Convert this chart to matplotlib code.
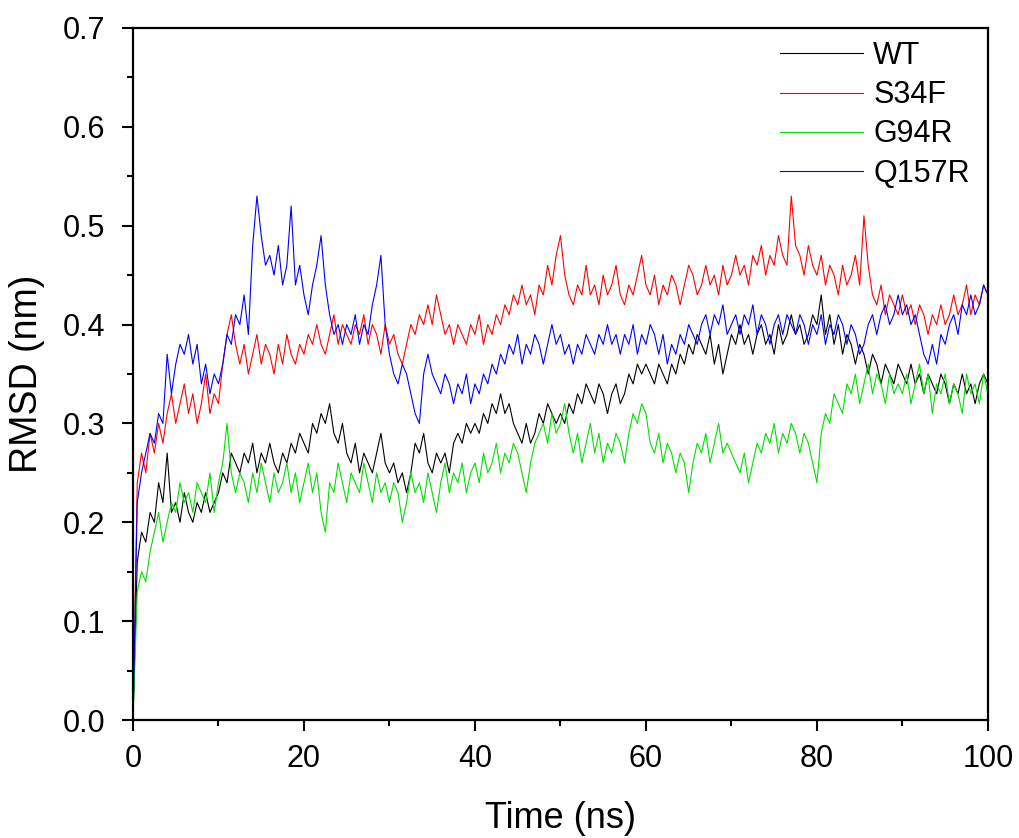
import numpy as np
import matplotlib
matplotlib.use("Agg")
import matplotlib.pyplot as plt
from matplotlib.ticker import MultipleLocator

plt.rcParams['font.family'] = ['Liberation Sans', 'DejaVu Sans']

# RMSD traces, one value every 0.5 ns (0 .. 100 ns)
time_step = 0.5

wt = [0.00, 0.16, 0.19, 0.18, 0.21, 0.20, 0.24, 0.22, 0.27, 0.21, 0.22, 0.20, 0.23, 0.21, 0.20, 0.22, 0.21, 0.23, 0.21, 0.22,
      0.23, 0.25, 0.24, 0.27, 0.26, 0.25, 0.27, 0.26, 0.28, 0.25, 0.27, 0.26, 0.28, 0.26, 0.25, 0.27, 0.26, 0.28, 0.27, 0.29,
      0.28, 0.27, 0.30, 0.29, 0.31, 0.30, 0.32, 0.29, 0.28, 0.30, 0.27, 0.26, 0.28, 0.25, 0.27, 0.26, 0.25, 0.27, 0.29, 0.26,
      0.25, 0.26, 0.24, 0.25, 0.23, 0.25, 0.28, 0.27, 0.29, 0.26, 0.25, 0.27, 0.26, 0.27, 0.25, 0.28, 0.29, 0.28, 0.30, 0.29,
      0.30, 0.29, 0.31, 0.30, 0.32, 0.31, 0.33, 0.31, 0.32, 0.30, 0.29, 0.28, 0.30, 0.28, 0.29, 0.31, 0.30, 0.32, 0.31, 0.30,
      0.31, 0.30, 0.32, 0.31, 0.33, 0.32, 0.34, 0.33, 0.32, 0.34, 0.33, 0.31, 0.33, 0.34, 0.32, 0.33, 0.35, 0.34, 0.36, 0.35,
      0.36, 0.35, 0.34, 0.36, 0.35, 0.34, 0.36, 0.35, 0.37, 0.36, 0.38, 0.37, 0.39, 0.38, 0.37, 0.39, 0.36, 0.38, 0.35, 0.37,
      0.39, 0.38, 0.40, 0.38, 0.39, 0.37, 0.39, 0.40, 0.38, 0.39, 0.37, 0.40, 0.38, 0.39, 0.41, 0.39, 0.40, 0.38, 0.39, 0.41,
      0.40, 0.43, 0.39, 0.41, 0.38, 0.40, 0.37, 0.39, 0.38, 0.36, 0.38, 0.37, 0.35, 0.37, 0.36, 0.34, 0.36, 0.35, 0.34, 0.36,
      0.35, 0.34, 0.36, 0.34, 0.35, 0.33, 0.35, 0.34, 0.33, 0.35, 0.34, 0.32, 0.34, 0.33, 0.35, 0.33, 0.34, 0.32, 0.34, 0.35, 0.34]

s34f = [0.00, 0.24, 0.27, 0.25, 0.29, 0.27, 0.30, 0.28, 0.31, 0.33, 0.30, 0.32, 0.34, 0.31, 0.33, 0.30, 0.32, 0.35, 0.31, 0.33,
        0.32, 0.36, 0.39, 0.41, 0.38, 0.36, 0.38, 0.35, 0.37, 0.39, 0.36, 0.38, 0.37, 0.35, 0.38, 0.36, 0.39, 0.37, 0.36, 0.38,
        0.37, 0.39, 0.38, 0.40, 0.38, 0.37, 0.39, 0.41, 0.38, 0.40, 0.39, 0.38, 0.40, 0.39, 0.41, 0.38, 0.40, 0.39, 0.37, 0.40,
        0.38, 0.39, 0.37, 0.36, 0.38, 0.40, 0.39, 0.41, 0.40, 0.42, 0.40, 0.43, 0.41, 0.39, 0.40, 0.38, 0.40, 0.39, 0.38, 0.40,
        0.39, 0.41, 0.38, 0.40, 0.39, 0.41, 0.40, 0.42, 0.41, 0.43, 0.42, 0.44, 0.42, 0.43, 0.41, 0.44, 0.43, 0.46, 0.44, 0.47,
        0.49, 0.45, 0.43, 0.42, 0.44, 0.43, 0.46, 0.43, 0.44, 0.42, 0.45, 0.43, 0.44, 0.46, 0.43, 0.42, 0.44, 0.43, 0.45, 0.47,
        0.44, 0.43, 0.45, 0.42, 0.44, 0.43, 0.45, 0.44, 0.42, 0.44, 0.46, 0.45, 0.43, 0.44, 0.46, 0.44, 0.45, 0.43, 0.46, 0.44,
        0.45, 0.47, 0.45, 0.46, 0.44, 0.47, 0.46, 0.48, 0.45, 0.47, 0.46, 0.49, 0.47, 0.46, 0.53, 0.48, 0.47, 0.45, 0.48, 0.46,
        0.45, 0.47, 0.44, 0.46, 0.45, 0.43, 0.46, 0.44, 0.45, 0.47, 0.44, 0.51, 0.46, 0.43, 0.42, 0.44, 0.41, 0.43, 0.42, 0.41,
        0.43, 0.41, 0.42, 0.40, 0.42, 0.41, 0.39, 0.41, 0.40, 0.42, 0.40, 0.41, 0.43, 0.41, 0.42, 0.44, 0.41, 0.43, 0.42, 0.44, 0.43]

g94r = [0.00, 0.13, 0.15, 0.14, 0.17, 0.19, 0.21, 0.18, 0.20, 0.22, 0.21, 0.24, 0.22, 0.23, 0.21, 0.24, 0.23, 0.22, 0.25, 0.21,
        0.24, 0.26, 0.30, 0.25, 0.23, 0.25, 0.24, 0.22, 0.25, 0.23, 0.26, 0.24, 0.22, 0.25, 0.23, 0.24, 0.26, 0.23, 0.25, 0.22,
        0.24, 0.26, 0.23, 0.25, 0.21, 0.19, 0.24, 0.23, 0.26, 0.24, 0.22, 0.25, 0.24, 0.23, 0.26, 0.24, 0.22, 0.25, 0.23, 0.24,
        0.22, 0.24, 0.23, 0.20, 0.22, 0.25, 0.23, 0.24, 0.22, 0.25, 0.23, 0.21, 0.24, 0.26, 0.23, 0.25, 0.24, 0.26, 0.23, 0.25,
        0.26, 0.24, 0.27, 0.25, 0.26, 0.28, 0.25, 0.27, 0.26, 0.28, 0.27, 0.25, 0.23, 0.26, 0.28, 0.29, 0.30, 0.28, 0.31, 0.29,
        0.30, 0.32, 0.29, 0.27, 0.29, 0.26, 0.28, 0.30, 0.27, 0.29, 0.26, 0.28, 0.27, 0.29, 0.28, 0.26, 0.29, 0.31, 0.30, 0.32,
        0.31, 0.28, 0.27, 0.29, 0.26, 0.28, 0.27, 0.25, 0.27, 0.26, 0.23, 0.26, 0.28, 0.27, 0.29, 0.26, 0.28, 0.30, 0.27, 0.28,
        0.27, 0.26, 0.25, 0.27, 0.24, 0.26, 0.28, 0.27, 0.29, 0.28, 0.30, 0.27, 0.29, 0.28, 0.30, 0.29, 0.27, 0.29, 0.28, 0.26,
        0.24, 0.29, 0.31, 0.30, 0.33, 0.32, 0.31, 0.34, 0.33, 0.35, 0.32, 0.34, 0.36, 0.33, 0.35, 0.34, 0.32, 0.35, 0.33, 0.34,
        0.33, 0.35, 0.32, 0.34, 0.36, 0.33, 0.35, 0.31, 0.34, 0.33, 0.35, 0.32, 0.34, 0.33, 0.31, 0.35, 0.33, 0.34, 0.32, 0.35, 0.33]

q157r = [0.00, 0.22, 0.25, 0.27, 0.29, 0.28, 0.31, 0.30, 0.37, 0.33, 0.36, 0.38, 0.37, 0.39, 0.36, 0.38, 0.34, 0.36, 0.33, 0.35,
         0.34, 0.36, 0.39, 0.38, 0.41, 0.40, 0.43, 0.39, 0.48, 0.53, 0.49, 0.46, 0.47, 0.45, 0.48, 0.44, 0.46, 0.52, 0.44, 0.46,
         0.43, 0.41, 0.44, 0.46, 0.49, 0.44, 0.41, 0.39, 0.40, 0.38, 0.40, 0.39, 0.41, 0.38, 0.40, 0.39, 0.42, 0.44, 0.47, 0.40,
         0.37, 0.35, 0.34, 0.36, 0.35, 0.33, 0.31, 0.30, 0.35, 0.37, 0.35, 0.34, 0.33, 0.35, 0.34, 0.32, 0.34, 0.33, 0.35, 0.32,
         0.34, 0.33, 0.35, 0.34, 0.36, 0.35, 0.37, 0.36, 0.38, 0.37, 0.39, 0.36, 0.38, 0.37, 0.39, 0.38, 0.36, 0.38, 0.40, 0.38,
         0.39, 0.37, 0.38, 0.36, 0.38, 0.37, 0.39, 0.38, 0.37, 0.39, 0.38, 0.40, 0.38, 0.39, 0.37, 0.39, 0.38, 0.40, 0.37, 0.39,
         0.38, 0.40, 0.39, 0.37, 0.39, 0.36, 0.38, 0.37, 0.39, 0.38, 0.40, 0.39, 0.38, 0.40, 0.41, 0.39, 0.41, 0.40, 0.42, 0.39,
         0.40, 0.41, 0.39, 0.41, 0.40, 0.42, 0.39, 0.41, 0.40, 0.38, 0.40, 0.41, 0.39, 0.41, 0.40, 0.39, 0.41, 0.40, 0.38, 0.40,
         0.39, 0.41, 0.38, 0.40, 0.39, 0.41, 0.40, 0.38, 0.40, 0.39, 0.37, 0.38, 0.40, 0.41, 0.39, 0.41, 0.42, 0.40, 0.41, 0.43,
         0.41, 0.42, 0.40, 0.41, 0.39, 0.37, 0.36, 0.38, 0.36, 0.39, 0.38, 0.40, 0.41, 0.39, 0.42, 0.41, 0.43, 0.41, 0.42, 0.44, 0.43]

labels = ["WT", "S34F", "G94R", "Q157R"]
colors = ["black", "red", "#00e000", "blue"]
series = [wt, s34f, g94r, q157r]

fig = plt.figure(figsize=(10.19, 8.38), dpi=100)
ax = fig.add_axes([0.1305, 0.1408, 0.839, 0.8258])

for vals, lab, col in zip(series, labels, colors):
    t = np.arange(len(vals)) * time_step
    ax.plot(t, vals, color=col, lw=0.8, label=lab)

ax.set_xlim(0, 100)
ax.set_ylim(0, 0.7)
ax.xaxis.set_major_locator(MultipleLocator(20))
ax.xaxis.set_minor_locator(MultipleLocator(10))
ax.yaxis.set_major_locator(MultipleLocator(0.1))
ax.yaxis.set_minor_locator(MultipleLocator(0.05))
ax.yaxis.set_major_formatter(plt.FormatStrFormatter('%.1f'))
ax.tick_params(which='both', direction='out', top=False, right=False, width=1.5, labelsize=22)
ax.tick_params(which='major', length=8)
ax.tick_params(which='minor', length=4)
ax.tick_params(axis='y', which='major', pad=12)
ax.tick_params(axis='x', which='major', pad=9)
for sp in ax.spines.values():
    sp.set_linewidth(1.6)

ax.set_xlabel("Time (ns)", fontsize=26, labelpad=20)
ax.set_ylabel("RMSD (nm)", fontsize=27, labelpad=13)

ax.legend(loc='upper right', frameon=False, fontsize=22, handlelength=2.7,
          handletextpad=0.35, labelspacing=0.3, borderaxespad=0.3,
          bbox_to_anchor=(1.004, 1.012))

fig.savefig("out.png", dpi=100)
